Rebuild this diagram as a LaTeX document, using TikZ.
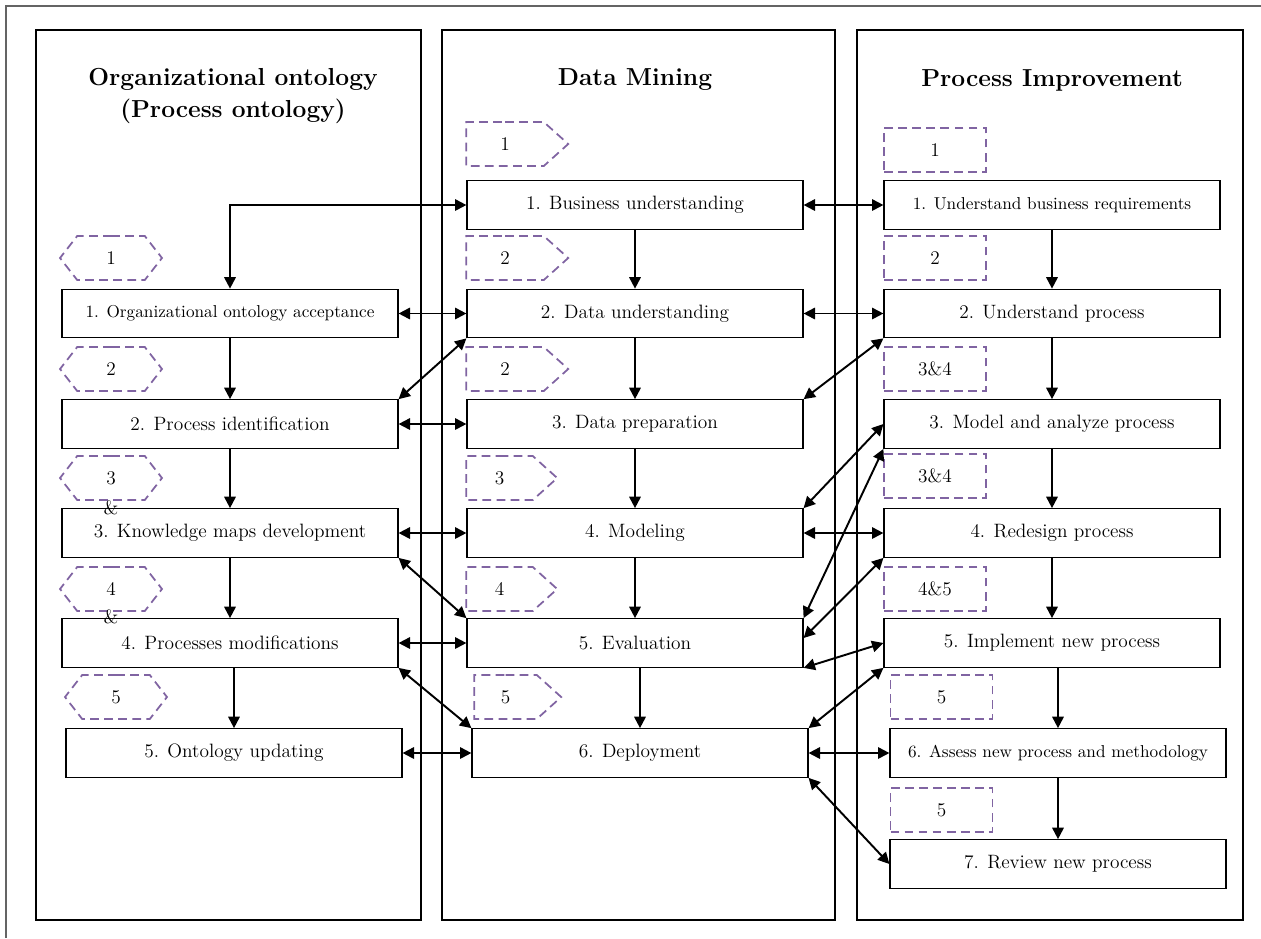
\documentclass[tikz,border=0pt]{standalone}
\usepackage{tikz}
\usetikzlibrary{arrows.meta,shapes.symbols}
\definecolor{tagpurple}{RGB}{128,100,162}
\definecolor{framegray}{RGB}{100,100,100}

\begin{document}
\begin{tikzpicture}[x=0.02cm,y=-0.02cm,
  >={Triangle[length=6.5pt,width=6.5pt]},
  panel/.style={draw,line width=0.6pt},
  stepbox/.style={draw,line width=0.7pt,minimum width=6.72cm,minimum height=0.97cm,inner sep=0pt,font=\fontsize{11}{13}\selectfont},
  smallbox/.style={stepbox,font=\fontsize{9.8}{11}\selectfont},
  coltitle/.style={font=\fontsize{14}{18}\selectfont\bfseries,align=center},
  numtag/.style={draw=tagpurple,dash pattern=on 5pt off 3pt,line width=1pt,minimum width=2.04cm,minimum height=0.88cm,inner sep=0pt,font=\fontsize{11}{13}\selectfont},
  hextag/.style={numtag,shape=signal,signal to=east and west,signal pointer angle=104},
  pentag/.style={numtag,shape=signal,signal to=east,signal pointer angle=84},
  recttag/.style={numtag,rectangle},
  ampsign/.style={inner sep=0pt,font=\fontsize{11}{13}\selectfont},
  arrowline/.style={line width=1.1pt}]
   \useasboundingbox (0,0) rectangle (1261,938);
   \draw[framegray,line width=1.2pt] (6,938) -- (6,6) -- (1261,6);
   \draw[panel] (36,30) rectangle (421,920);
   \draw[panel] (442,30) rectangle (835,920);
   \draw[panel] (857,30) rectangle (1243,920);

   \node[coltitle] (lefttitle) at (233,96) {Organizational ontology\\(Process ontology)};
   \node[coltitle] (midtitle) at (635,80) {Data Mining};
   \node[coltitle] (righttitle) at (1052,80) {Process Improvement};

   \node[smallbox] (l1) at (230,313.5) {1. Organizational ontology acceptance};
   \node[stepbox] (l2) at (230,424) {2. Process identification};
   \node[stepbox] (l3) at (230,533) {3. Knowledge maps development};
   \node[stepbox] (l4) at (230,643) {4. Processes modifications};
   \node[stepbox] (l5) at (234,753) {5. Ontology updating};

   \node[stepbox] (b1) at (635,205) {1. Business understanding};
   \node[stepbox] (b2) at (635,313.5) {2. Data understanding};
   \node[stepbox] (b3) at (635,424) {3. Data preparation};
   \node[stepbox] (b4) at (635,533) {4. Modeling};
   \node[stepbox] (b5) at (635,643) {5. Evaluation};
   \node[stepbox] (b6) at (640,753) {6. Deployment};

   \node[smallbox] (r1) at (1052,205) {1. Understand business requirements};
   \node[stepbox] (r2) at (1052,313.5) {2. Understand process};
   \node[stepbox] (r3) at (1052,424) {3. Model and analyze process};
   \node[stepbox] (r4) at (1052,533) {4. Redesign process};
   \node[stepbox] (r5) at (1052,643) {5. Implement new process};
   \node[smallbox] (r6) at (1058,753) {6. Assess new process and methodology};
   \node[stepbox] (r7) at (1058,864) {7. Review new process};

   \node[hextag] (lt1) at (111,258) {1};
   \node[hextag] (lt2) at (111,369) {2};
   \node[hextag] (lt3) at (111,478) {3};
   \node[ampsign] (lt3amp) at (111,508) {\&};
   \node[hextag] (lt4) at (111,589) {4};
   \node[ampsign] (lt4amp) at (111,617) {\&};
   \node[hextag] (lt5) at (116,697) {5};

   \node[pentag] (mt1) at (505,144) {1};
   \node[pentag] (mt2) at (505,258) {2};
   \node[pentag] (mt3) at (505,369) {2};
   \node[pentag,minimum width=1.82cm] (mt4) at (499.5,478) {3};
   \node[pentag,minimum width=1.82cm] (mt5) at (499.5,589) {4};
   \node[pentag,minimum width=1.74cm] (mt6) at (505.5,697) {5};

   \node[recttag] (rt1) at (935,150) {1};
   \node[recttag] (rt2) at (935,258) {2};
   \node[recttag] (rt3) at (935,369) {3\&4};
   \node[recttag] (rt4) at (935,476) {3\&4};
   \node[recttag] (rt5) at (935,589) {4\&5};
   \node[recttag] (rt6) at (941.5,697) {5};
   \node[recttag] (rt7) at (941.5,810) {5};

   \draw[arrowline,->] (l1) -- (l2);
   \draw[arrowline,->] (l2) -- (l3);
   \draw[arrowline,->] (l3) -- (l4);
   \draw[arrowline,->] (l5.north |- l4.south) -- (l5.north);
   \draw[arrowline,->] (b1) -- (b2);
   \draw[arrowline,->] (b2) -- (b3);
   \draw[arrowline,->] (b3) -- (b4);
   \draw[arrowline,->] (b4) -- (b5);
   \draw[arrowline,->] (b6.north |- b5.south) -- (b6.north);
   \draw[arrowline,->] (r1) -- (r2);
   \draw[arrowline,->] (r2) -- (r3);
   \draw[arrowline,->] (r3) -- (r4);
   \draw[arrowline,->] (r4) -- (r5);
   \draw[arrowline,->] (r6.north |- r5.south) -- (r6.north);
   \draw[arrowline,->] (r6) -- (r7);

   \draw[arrowline,<->] (l1.north) |- (b1.west);
   \draw[arrowline,<->] (l1.east) -- (b2.west);
   \draw[arrowline,<->] (l2.east) -- (b3.west);
   \draw[arrowline,<->] (l3.east) -- (b4.west);
   \draw[arrowline,<->] (l4.east) -- (b5.west);
   \draw[arrowline,<->] (l5.east) -- (b6.west);
   \draw[arrowline,<->] (l2.north east) -- (b2.south west);
   \draw[arrowline,<->] (l3.south east) -- (b5.north west);
   \draw[arrowline,<->] (l4.south east) -- (b6.north west);

   \draw[arrowline,<->] (b1.east) -- (r1.west);
   \draw[arrowline,<->] (b2.east) -- (r2.west);
   \draw[arrowline,<->] (b4.east) -- (r4.west);
   \draw[arrowline,<->] (b6.east) -- (r6.west);
   \draw[arrowline,<->] (b3.north east) -- (r2.south west);
   \draw[arrowline,<->] (b4.north east) -- (r3.west);
   \draw[arrowline,<->] (b5.north east) -- (r3.south west);
   \draw[arrowline,<->] ([yshift=0.1cm]b5.east) -- (r4.south west);
   \draw[arrowline,<->] (b5.south east) -- (r5.west);
   \draw[arrowline,<->] (b6.north east) -- (r5.south west);
   \draw[arrowline,<->] (b6.south east) -- (r7.west);
\end{tikzpicture}
\end{document}
